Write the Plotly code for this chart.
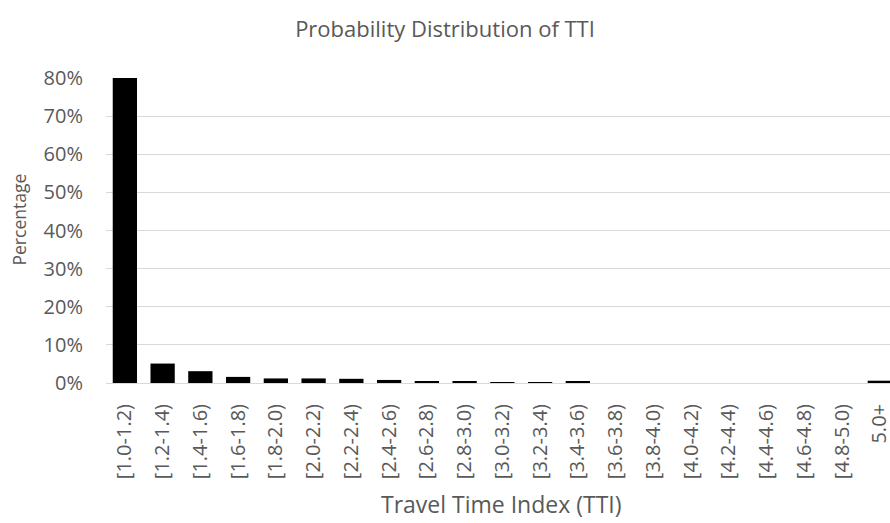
import plotly.graph_objects as go

categories = ["[1.0-1.2)", "[1.2-1.4)", "[1.4-1.6)", "[1.6-1.8)", "[1.8-2.0)", "[2.0-2.2)",
              "[2.2-2.4)", "[2.4-2.6)", "[2.6-2.8)", "[2.8-3.0)", "[3.0-3.2)", "[3.2-3.4)",
              "[3.4-3.6)", "[3.6-3.8)", "[3.8-4.0)", "[4.0-4.2)", "[4.2-4.4)", "[4.4-4.6)",
              "[4.6-4.8)", "[4.8-5.0)", "5.0+"]
percentages = [0.800, 0.051, 0.031, 0.016, 0.012, 0.012, 0.011, 0.008, 0.0035, 0.003,
               0.0025, 0.0005, 0.0035, 0, 0, 0, 0, 0, 0, 0, 0.006]
y_ticks = [0, 0.1, 0.2, 0.3, 0.4, 0.5, 0.6, 0.7, 0.8]

FONT = "Open Sans"
GREY = "#595959"
W, H = 890, 523
ML, MT, MB = 106, 78, 140

fig = go.Figure(go.Bar(
    x=list(range(len(categories))),
    y=percentages,
    marker=dict(color="#000000", line=dict(width=0)),
    width=0.643,
))

fig.update_layout(
    width=W, height=H,
    margin=dict(l=ML, r=0, t=MT, b=MB, autoexpand=False),
    paper_bgcolor="white", plot_bgcolor="white",
    showlegend=False,
    title=dict(text="Probability Distribution of TTI", x=0.5, xanchor="center", xref="container",
               y=1 - 29 / H, yanchor="middle", yref="container",
               font=dict(family=FONT, size=22, color=GREY)),
    font=dict(family=FONT, color=GREY),
    xaxis=dict(
        tickmode="array", tickvals=list(range(len(categories))), ticktext=categories,
        tickangle=-90, range=[-0.5, 20.27], automargin=False,
        tickfont=dict(family=FONT, size=20, color=GREY),
        showgrid=False, showline=True, linecolor="#d9d9d9", linewidth=1,
        ticks="", zeroline=False, ticklabelstandoff=12, ticklabeloverflow="allow",
    ),
    yaxis=dict(
        range=[0, 0.8], tickvals=y_ticks, tickformat=".0%", automargin=False,
        tickfont=dict(family=FONT, size=20, color=GREY),
        showgrid=True, gridcolor="#d9d9d9", gridwidth=1,
        zeroline=False, ticks="", ticklabelstandoff=22,
    ),
    annotations=[
        dict(text="Travel Time Index (TTI)", xref="paper", yref="paper",
             x=(502 - ML) / (W - ML), y=-(504 - (H - MB)) / (H - MT - MB),
             xanchor="center", yanchor="middle",
             showarrow=False, font=dict(family=FONT, size=23, color=GREY)),
        dict(text="Percentage", xref="paper", yref="paper", textangle=-90,
             x=-(ML - 18.5) / (W - ML), y=(H - MB - 220) / (H - MT - MB),
             xanchor="center", yanchor="middle",
             showarrow=False, font=dict(family=FONT, size=17.5, color=GREY)),
    ],
)

fig.write_html("out.html", config={"displayModeBar": False},
               post_script="document.body.style.margin='0';")
